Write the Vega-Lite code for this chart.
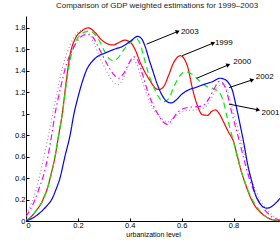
{
  "$schema": "https://vega.github.io/schema/vega-lite/v6.json",
  "width": 254,
  "height": 205,
  "autosize": "none",
  "padding": {"left": 26, "top": 16, "right": 0, "bottom": 20},
  "background": "white",
  "config": {
    "view": {"stroke": null},
    "axis": {"domainColor": "black", "tickColor": "black", "tickSize": -3, "labelFont": "Liberation Sans", "labelFontSize": 7.5, "labelColor": "black", "labelOverlap": false, "grid": false, "titleFont": "Liberation Sans", "titleFontSize": 7, "titleFontWeight": "normal", "titleColor": "black", "domainWidth": 1, "tickWidth": 1}
  },
  "title": {"text": "Comparison  of GDP weighted estimations for 1999–2003", "font": "Liberation Sans", "fontSize": 8, "fontWeight": "normal", "color": "#222222", "offset": 6, "dx": 4},
  "datasets": {
    "arrows": [
      {"label": "2003", "x1": 0.465, "y1": 1.648, "x2": 0.585, "y2": 1.766, "tx": 0.597, "ty": 1.764},
      {"label": "1999", "x1": 0.602, "y1": 1.54, "x2": 0.722, "y2": 1.658, "tx": 0.728, "ty": 1.656},
      {"label": "2000", "x1": 0.658, "y1": 1.33, "x2": 0.78, "y2": 1.455, "tx": 0.799, "ty": 1.479},
      {"label": "2002", "x1": 0.783, "y1": 1.243, "x2": 0.872, "y2": 1.315, "tx": 0.886, "ty": 1.339},
      {"label": "2001", "x1": 0.783, "y1": 1.089, "x2": 0.895, "y2": 1.035, "tx": 0.908, "ty": 1.003}
    ],
    "curves": [
      {"year": "1999", "x": 0, "y": 0.005}, {"year": "1999", "x": 0.02, "y": 0.04}, {"year": "1999", "x": 0.04, "y": 0.1}, {"year": "1999", "x": 0.055, "y": 0.15}, {"year": "1999", "x": 0.069, "y": 0.22}, {"year": "1999", "x": 0.082, "y": 0.3}, {"year": "1999", "x": 0.095, "y": 0.42}, {"year": "1999", "x": 0.112, "y": 0.6}, {"year": "1999", "x": 0.126, "y": 0.8}, {"year": "1999", "x": 0.14, "y": 1.0}, {"year": "1999", "x": 0.155, "y": 1.3}, {"year": "1999", "x": 0.17, "y": 1.55}, {"year": "1999", "x": 0.19, "y": 1.7}, {"year": "1999", "x": 0.215, "y": 1.77}, {"year": "1999", "x": 0.24, "y": 1.8}, {"year": "1999", "x": 0.265, "y": 1.76}, {"year": "1999", "x": 0.29, "y": 1.69}, {"year": "1999", "x": 0.315, "y": 1.65}, {"year": "1999", "x": 0.335, "y": 1.64}, {"year": "1999", "x": 0.36, "y": 1.665}, {"year": "1999", "x": 0.38, "y": 1.685}, {"year": "1999", "x": 0.4, "y": 1.67}, {"year": "1999", "x": 0.42, "y": 1.6}, {"year": "1999", "x": 0.44, "y": 1.48}, {"year": "1999", "x": 0.46, "y": 1.38}, {"year": "1999", "x": 0.48, "y": 1.3}, {"year": "1999", "x": 0.5, "y": 1.235}, {"year": "1999", "x": 0.512, "y": 1.225}, {"year": "1999", "x": 0.53, "y": 1.25}, {"year": "1999", "x": 0.55, "y": 1.36}, {"year": "1999", "x": 0.57, "y": 1.48}, {"year": "1999", "x": 0.595, "y": 1.54}, {"year": "1999", "x": 0.61, "y": 1.51}, {"year": "1999", "x": 0.625, "y": 1.42}, {"year": "1999", "x": 0.64, "y": 1.25}, {"year": "1999", "x": 0.66, "y": 1.08}, {"year": "1999", "x": 0.68, "y": 0.99}, {"year": "1999", "x": 0.7, "y": 0.985}, {"year": "1999", "x": 0.715, "y": 1.02}, {"year": "1999", "x": 0.73, "y": 1.035}, {"year": "1999", "x": 0.745, "y": 1.0}, {"year": "1999", "x": 0.76, "y": 0.93}, {"year": "1999", "x": 0.78, "y": 0.83}, {"year": "1999", "x": 0.8, "y": 0.74}, {"year": "1999", "x": 0.815, "y": 0.6}, {"year": "1999", "x": 0.83, "y": 0.46}, {"year": "1999", "x": 0.845, "y": 0.35}, {"year": "1999", "x": 0.86, "y": 0.25}, {"year": "1999", "x": 0.88, "y": 0.15}, {"year": "1999", "x": 0.9, "y": 0.09}, {"year": "1999", "x": 0.925, "y": 0.04}, {"year": "1999", "x": 0.95, "y": 0.012}, {"year": "1999", "x": 0.979, "y": 0.002},
      {"year": "2000", "x": 0, "y": 0.005}, {"year": "2000", "x": 0.02, "y": 0.04}, {"year": "2000", "x": 0.04, "y": 0.1}, {"year": "2000", "x": 0.055, "y": 0.15}, {"year": "2000", "x": 0.069, "y": 0.21}, {"year": "2000", "x": 0.082, "y": 0.3}, {"year": "2000", "x": 0.095, "y": 0.41}, {"year": "2000", "x": 0.112, "y": 0.6}, {"year": "2000", "x": 0.126, "y": 0.8}, {"year": "2000", "x": 0.14, "y": 1.0}, {"year": "2000", "x": 0.155, "y": 1.27}, {"year": "2000", "x": 0.17, "y": 1.5}, {"year": "2000", "x": 0.19, "y": 1.66}, {"year": "2000", "x": 0.215, "y": 1.745}, {"year": "2000", "x": 0.245, "y": 1.77}, {"year": "2000", "x": 0.265, "y": 1.74}, {"year": "2000", "x": 0.285, "y": 1.67}, {"year": "2000", "x": 0.305, "y": 1.57}, {"year": "2000", "x": 0.32, "y": 1.515}, {"year": "2000", "x": 0.336, "y": 1.495}, {"year": "2000", "x": 0.355, "y": 1.52}, {"year": "2000", "x": 0.375, "y": 1.59}, {"year": "2000", "x": 0.4, "y": 1.66}, {"year": "2000", "x": 0.425, "y": 1.7}, {"year": "2000", "x": 0.44, "y": 1.65}, {"year": "2000", "x": 0.455, "y": 1.52}, {"year": "2000", "x": 0.47, "y": 1.39}, {"year": "2000", "x": 0.49, "y": 1.26}, {"year": "2000", "x": 0.51, "y": 1.16}, {"year": "2000", "x": 0.53, "y": 1.11}, {"year": "2000", "x": 0.55, "y": 1.14}, {"year": "2000", "x": 0.57, "y": 1.25}, {"year": "2000", "x": 0.595, "y": 1.36}, {"year": "2000", "x": 0.615, "y": 1.39}, {"year": "2000", "x": 0.635, "y": 1.375}, {"year": "2000", "x": 0.658, "y": 1.33}, {"year": "2000", "x": 0.68, "y": 1.28}, {"year": "2000", "x": 0.7, "y": 1.25}, {"year": "2000", "x": 0.725, "y": 1.23}, {"year": "2000", "x": 0.745, "y": 1.2}, {"year": "2000", "x": 0.76, "y": 1.12}, {"year": "2000", "x": 0.775, "y": 0.97}, {"year": "2000", "x": 0.79, "y": 0.83}, {"year": "2000", "x": 0.81, "y": 0.64}, {"year": "2000", "x": 0.83, "y": 0.46}, {"year": "2000", "x": 0.85, "y": 0.32}, {"year": "2000", "x": 0.87, "y": 0.21}, {"year": "2000", "x": 0.89, "y": 0.13}, {"year": "2000", "x": 0.915, "y": 0.06}, {"year": "2000", "x": 0.94, "y": 0.02}, {"year": "2000", "x": 0.979, "y": 0.003},
      {"year": "2001", "x": 0, "y": 0.07}, {"year": "2001", "x": 0.02, "y": 0.16}, {"year": "2001", "x": 0.04, "y": 0.3}, {"year": "2001", "x": 0.06, "y": 0.5}, {"year": "2001", "x": 0.08, "y": 0.72}, {"year": "2001", "x": 0.1, "y": 0.96}, {"year": "2001", "x": 0.12, "y": 1.2}, {"year": "2001", "x": 0.14, "y": 1.42}, {"year": "2001", "x": 0.16, "y": 1.58}, {"year": "2001", "x": 0.18, "y": 1.69}, {"year": "2001", "x": 0.2, "y": 1.76}, {"year": "2001", "x": 0.222, "y": 1.78}, {"year": "2001", "x": 0.245, "y": 1.74}, {"year": "2001", "x": 0.265, "y": 1.64}, {"year": "2001", "x": 0.285, "y": 1.52}, {"year": "2001", "x": 0.31, "y": 1.4}, {"year": "2001", "x": 0.335, "y": 1.3}, {"year": "2001", "x": 0.355, "y": 1.27}, {"year": "2001", "x": 0.375, "y": 1.33}, {"year": "2001", "x": 0.395, "y": 1.45}, {"year": "2001", "x": 0.41, "y": 1.51}, {"year": "2001", "x": 0.425, "y": 1.47}, {"year": "2001", "x": 0.445, "y": 1.33}, {"year": "2001", "x": 0.47, "y": 1.15}, {"year": "2001", "x": 0.495, "y": 1.03}, {"year": "2001", "x": 0.52, "y": 0.96}, {"year": "2001", "x": 0.545, "y": 0.925}, {"year": "2001", "x": 0.565, "y": 0.95}, {"year": "2001", "x": 0.59, "y": 1.0}, {"year": "2001", "x": 0.62, "y": 1.03}, {"year": "2001", "x": 0.66, "y": 1.035}, {"year": "2001", "x": 0.69, "y": 1.06}, {"year": "2001", "x": 0.715, "y": 1.15}, {"year": "2001", "x": 0.74, "y": 1.25}, {"year": "2001", "x": 0.76, "y": 1.27}, {"year": "2001", "x": 0.775, "y": 1.22}, {"year": "2001", "x": 0.79, "y": 1.1}, {"year": "2001", "x": 0.81, "y": 0.92}, {"year": "2001", "x": 0.83, "y": 0.74}, {"year": "2001", "x": 0.85, "y": 0.55}, {"year": "2001", "x": 0.87, "y": 0.38}, {"year": "2001", "x": 0.89, "y": 0.26}, {"year": "2001", "x": 0.91, "y": 0.17}, {"year": "2001", "x": 0.93, "y": 0.1}, {"year": "2001", "x": 0.955, "y": 0.045}, {"year": "2001", "x": 0.979, "y": 0.015},
      {"year": "2002", "x": 0, "y": 0.04}, {"year": "2002", "x": 0.015, "y": 0.1}, {"year": "2002", "x": 0.035, "y": 0.2}, {"year": "2002", "x": 0.05, "y": 0.3}, {"year": "2002", "x": 0.067, "y": 0.42}, {"year": "2002", "x": 0.086, "y": 0.62}, {"year": "2002", "x": 0.099, "y": 0.8}, {"year": "2002", "x": 0.112, "y": 1.0}, {"year": "2002", "x": 0.123, "y": 1.13}, {"year": "2002", "x": 0.134, "y": 1.25}, {"year": "2002", "x": 0.157, "y": 1.47}, {"year": "2002", "x": 0.18, "y": 1.6}, {"year": "2002", "x": 0.205, "y": 1.7}, {"year": "2002", "x": 0.232, "y": 1.74}, {"year": "2002", "x": 0.255, "y": 1.72}, {"year": "2002", "x": 0.275, "y": 1.64}, {"year": "2002", "x": 0.298, "y": 1.53}, {"year": "2002", "x": 0.32, "y": 1.43}, {"year": "2002", "x": 0.34, "y": 1.36}, {"year": "2002", "x": 0.356, "y": 1.33}, {"year": "2002", "x": 0.375, "y": 1.37}, {"year": "2002", "x": 0.395, "y": 1.46}, {"year": "2002", "x": 0.415, "y": 1.53}, {"year": "2002", "x": 0.43, "y": 1.5}, {"year": "2002", "x": 0.45, "y": 1.36}, {"year": "2002", "x": 0.47, "y": 1.2}, {"year": "2002", "x": 0.49, "y": 1.08}, {"year": "2002", "x": 0.51, "y": 0.99}, {"year": "2002", "x": 0.53, "y": 0.92}, {"year": "2002", "x": 0.545, "y": 0.9}, {"year": "2002", "x": 0.56, "y": 0.93}, {"year": "2002", "x": 0.58, "y": 1.0}, {"year": "2002", "x": 0.6, "y": 1.04}, {"year": "2002", "x": 0.63, "y": 1.06}, {"year": "2002", "x": 0.66, "y": 1.065}, {"year": "2002", "x": 0.685, "y": 1.08}, {"year": "2002", "x": 0.705, "y": 1.14}, {"year": "2002", "x": 0.725, "y": 1.23}, {"year": "2002", "x": 0.745, "y": 1.3}, {"year": "2002", "x": 0.76, "y": 1.28}, {"year": "2002", "x": 0.775, "y": 1.19}, {"year": "2002", "x": 0.79, "y": 1.04}, {"year": "2002", "x": 0.805, "y": 0.9}, {"year": "2002", "x": 0.825, "y": 0.72}, {"year": "2002", "x": 0.845, "y": 0.53}, {"year": "2002", "x": 0.863, "y": 0.38}, {"year": "2002", "x": 0.88, "y": 0.27}, {"year": "2002", "x": 0.9, "y": 0.17}, {"year": "2002", "x": 0.925, "y": 0.09}, {"year": "2002", "x": 0.947, "y": 0.04}, {"year": "2002", "x": 0.979, "y": 0.008},
      {"year": "2003", "x": 0, "y": 0.0}, {"year": "2003", "x": 0.02, "y": 0.02}, {"year": "2003", "x": 0.04, "y": 0.05}, {"year": "2003", "x": 0.06, "y": 0.09}, {"year": "2003", "x": 0.08, "y": 0.14}, {"year": "2003", "x": 0.099, "y": 0.2}, {"year": "2003", "x": 0.115, "y": 0.29}, {"year": "2003", "x": 0.131, "y": 0.4}, {"year": "2003", "x": 0.15, "y": 0.6}, {"year": "2003", "x": 0.17, "y": 0.8}, {"year": "2003", "x": 0.185, "y": 1.0}, {"year": "2003", "x": 0.2, "y": 1.15}, {"year": "2003", "x": 0.215, "y": 1.28}, {"year": "2003", "x": 0.234, "y": 1.41}, {"year": "2003", "x": 0.26, "y": 1.5}, {"year": "2003", "x": 0.28, "y": 1.54}, {"year": "2003", "x": 0.3, "y": 1.56}, {"year": "2003", "x": 0.34, "y": 1.6}, {"year": "2003", "x": 0.375, "y": 1.63}, {"year": "2003", "x": 0.405, "y": 1.68}, {"year": "2003", "x": 0.43, "y": 1.72}, {"year": "2003", "x": 0.445, "y": 1.7}, {"year": "2003", "x": 0.46, "y": 1.62}, {"year": "2003", "x": 0.475, "y": 1.5}, {"year": "2003", "x": 0.49, "y": 1.39}, {"year": "2003", "x": 0.505, "y": 1.28}, {"year": "2003", "x": 0.525, "y": 1.17}, {"year": "2003", "x": 0.545, "y": 1.11}, {"year": "2003", "x": 0.56, "y": 1.1}, {"year": "2003", "x": 0.58, "y": 1.13}, {"year": "2003", "x": 0.6, "y": 1.18}, {"year": "2003", "x": 0.625, "y": 1.22}, {"year": "2003", "x": 0.655, "y": 1.245}, {"year": "2003", "x": 0.683, "y": 1.27}, {"year": "2003", "x": 0.72, "y": 1.3}, {"year": "2003", "x": 0.748, "y": 1.33}, {"year": "2003", "x": 0.765, "y": 1.32}, {"year": "2003", "x": 0.78, "y": 1.29}, {"year": "2003", "x": 0.795, "y": 1.22}, {"year": "2003", "x": 0.81, "y": 1.07}, {"year": "2003", "x": 0.825, "y": 0.9}, {"year": "2003", "x": 0.84, "y": 0.72}, {"year": "2003", "x": 0.855, "y": 0.52}, {"year": "2003", "x": 0.87, "y": 0.37}, {"year": "2003", "x": 0.885, "y": 0.24}, {"year": "2003", "x": 0.9, "y": 0.17}, {"year": "2003", "x": 0.915, "y": 0.13}, {"year": "2003", "x": 0.928, "y": 0.12}, {"year": "2003", "x": 0.94, "y": 0.125}, {"year": "2003", "x": 0.955, "y": 0.15}, {"year": "2003", "x": 0.968, "y": 0.18}, {"year": "2003", "x": 0.979, "y": 0.21}
    ]
  },
  "layer": [
    {
      "data": {"name": "curves"},
      "mark": {"type": "line", "interpolate": "monotone", "strokeWidth": 1.2, "clip": true},
      "encoding": {
        "x": {"field": "x", "type": "quantitative", "scale": {"domain": [0, 0.979], "nice": false, "zero": false}, "axis": {"values": [0, 0.2, 0.4, 0.6, 0.8], "format": "~g", "labelOverlap": false, "title": "urbanization level", "labelPadding": 3, "titlePadding": 2}},
        "y": {"field": "y", "type": "quantitative", "scale": {"domain": [0, 1.91], "nice": false}, "axis": {"values": [0, 0.2, 0.4, 0.6, 0.8, 1, 1.2, 1.4, 1.6, 1.8], "format": "~g", "labelOverlap": false, "title": null, "labelPadding": 4}},
        "color": {"field": "year", "type": "nominal", "scale": {"domain": ["1999", "2000", "2001", "2002", "2003"], "range": ["#ff0000", "#00ee00", "#999999", "#ff00ff", "#0000ff"]}, "legend": null},
        "strokeDash": {"field": "year", "type": "nominal", "scale": {"domain": ["1999", "2000", "2001", "2002", "2003"], "range": [[1, 0], [6, 4], [1, 2.5], [6, 3, 1.5, 3], [1, 0]]}, "legend": null},
        "order": {"field": "x", "type": "quantitative"}
      }
    },
    {
      "data": {"name": "arrows"},
      "mark": {"type": "rule", "color": "black", "strokeWidth": 1},
      "encoding": {
        "x": {"field": "x1", "type": "quantitative", "axis": {"values": [0, 0.2, 0.4, 0.6, 0.8], "format": "~g", "labelOverlap": false, "title": "urbanization level", "labelPadding": 3, "titlePadding": 2}},
        "y": {"field": "y1", "type": "quantitative", "axis": {"values": [0, 0.2, 0.4, 0.6, 0.8, 1, 1.2, 1.4, 1.6, 1.8], "format": "~g", "labelOverlap": false, "title": null, "labelPadding": 4}},
        "x2": {"field": "x2"},
        "y2": {"field": "y2"}
      }
    },
    {
      "data": {"name": "arrows"},
      "transform": [{"filter": "datum.label == '2003' || datum.label == '1999' || datum.label == '2000'"}],
      "mark": {"type": "point", "shape": "triangle-right", "filled": true, "color": "black", "size": 22, "angle": -22.5, "opacity": 1},
      "encoding": {
        "x": {"field": "x2", "type": "quantitative", "axis": {"values": [0, 0.2, 0.4, 0.6, 0.8], "format": "~g", "labelOverlap": false, "title": "urbanization level", "labelPadding": 3, "titlePadding": 2}},
        "y": {"field": "y2", "type": "quantitative", "axis": {"values": [0, 0.2, 0.4, 0.6, 0.8, 1, 1.2, 1.4, 1.6, 1.8], "format": "~g", "labelOverlap": false, "title": null, "labelPadding": 4}}
      }
    },
    {
      "data": {"name": "arrows"},
      "transform": [{"filter": "datum.label == '2002'"}],
      "mark": {"type": "point", "shape": "triangle-right", "filled": true, "color": "black", "size": 22, "angle": -18.5, "opacity": 1},
      "encoding": {
        "x": {"field": "x2", "type": "quantitative", "axis": {"values": [0, 0.2, 0.4, 0.6, 0.8], "format": "~g", "labelOverlap": false, "title": "urbanization level", "labelPadding": 3, "titlePadding": 2}},
        "y": {"field": "y2", "type": "quantitative", "axis": {"values": [0, 0.2, 0.4, 0.6, 0.8, 1, 1.2, 1.4, 1.6, 1.8], "format": "~g", "labelOverlap": false, "title": null, "labelPadding": 4}}
      }
    },
    {
      "data": {"name": "arrows"},
      "transform": [{"filter": "datum.label == '2001'"}],
      "mark": {"type": "point", "shape": "triangle-right", "filled": true, "color": "black", "size": 22, "angle": 11, "opacity": 1},
      "encoding": {
        "x": {"field": "x2", "type": "quantitative", "axis": {"values": [0, 0.2, 0.4, 0.6, 0.8], "format": "~g", "labelOverlap": false, "title": "urbanization level", "labelPadding": 3, "titlePadding": 2}},
        "y": {"field": "y2", "type": "quantitative", "axis": {"values": [0, 0.2, 0.4, 0.6, 0.8, 1, 1.2, 1.4, 1.6, 1.8], "format": "~g", "labelOverlap": false, "title": null, "labelPadding": 4}}
      }
    },
    {
      "data": {"name": "arrows"},
      "mark": {"type": "text", "align": "left", "baseline": "middle", "font": "Liberation Sans", "fontSize": 8, "color": "black"},
      "encoding": {
        "x": {"field": "tx", "type": "quantitative", "axis": {"values": [0, 0.2, 0.4, 0.6, 0.8], "format": "~g", "labelOverlap": false, "title": "urbanization level", "labelPadding": 3, "titlePadding": 2}},
        "y": {"field": "ty", "type": "quantitative", "axis": {"values": [0, 0.2, 0.4, 0.6, 0.8, 1, 1.2, 1.4, 1.6, 1.8], "format": "~g", "labelOverlap": false, "title": null, "labelPadding": 4}},
        "text": {"field": "label"}
      }
    }
  ]
}
